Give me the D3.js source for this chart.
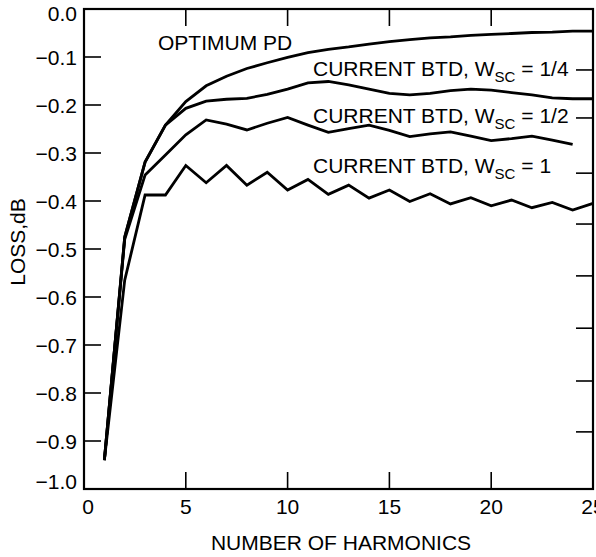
<!DOCTYPE html>
<html>
<head>
<meta charset="utf-8">
<script src="https://cdn.jsdelivr.net/npm/d3@7"></script>
<style>
  html, body { margin: 0; padding: 0; background: #fff; }
  svg { display: block; }
  text { font-family: "Liberation Sans", Arial, Helvetica, sans-serif; fill: #000; }
</style>
</head>
<body>
<svg id="chart" width="596" height="557"></svg>
<script>
// ---- data ----
const harmonics = d3.range(1, 26);
const optimumPD = [-0.94, -0.475, -0.319, -0.242, -0.193, -0.160, -0.140, -0.124, -0.112, -0.101,
  -0.091, -0.084, -0.079, -0.073, -0.068, -0.064, -0.060, -0.058, -0.055, -0.053,
  -0.051, -0.049, -0.048, -0.046, -0.046];
const btdQuarter = [-0.94, -0.475, -0.319, -0.242, -0.207, -0.192, -0.188, -0.186, -0.178, -0.167,
  -0.154, -0.151, -0.158, -0.167, -0.176, -0.179, -0.176, -0.170, -0.167, -0.169,
  -0.174, -0.179, -0.185, -0.187, -0.187];
const btdHalf = [-0.94, -0.48, -0.346, -0.304, -0.262, -0.231, -0.240, -0.252, -0.238, -0.226,
  -0.242, -0.257, -0.249, -0.242, -0.253, -0.266, -0.260, -0.256, -0.265, -0.274,
  -0.270, -0.265, -0.273, -0.282];
const btdOne = [-0.94, -0.565, -0.3875, -0.3875, -0.326, -0.362, -0.326, -0.367, -0.340, -0.377,
  -0.355, -0.386, -0.367, -0.394, -0.377, -0.401, -0.385, -0.406, -0.393, -0.410,
  -0.398, -0.414, -0.403, -0.419, -0.405];
const xTickValues = [0, 5, 10, 15, 20, 25];
const yTickValues = [0, -0.1, -0.2, -0.3, -0.4, -0.5, -0.6, -0.7, -0.8, -0.9, -1.0];
const rightTickValues = [-0.127, -0.227, -0.342, -0.448, -0.556, -0.665, -0.775, -0.881];
const seriesList = [
  { name: "OPTIMUM PD", values: optimumPD },
  { name: "CURRENT BTD, W_SC = 1/4", values: btdQuarter },
  { name: "CURRENT BTD, W_SC = 1/2", values: btdHalf },
  { name: "CURRENT BTD, W_SC = 1", values: btdOne }
];

// ---- layout ----
const svg = d3.select("#chart");
const pLeft = 84, pRight = 593, pTop = 9, pBottom = 489;
const x = d3.scaleLinear().domain([0, 25]).range([pLeft, pRight]);
const y = d3.scaleLinear().domain([0, -1]).range([pTop, pBottom]);
const tickLen = 17;
const fs = 21;

// frame
svg.append("rect")
  .attr("x", pLeft).attr("y", pTop)
  .attr("width", pRight - pLeft).attr("height", pBottom - pTop)
  .attr("fill", "none").attr("stroke", "#000").attr("stroke-width", 2.2);

// ticks (inward)
const inner = svg.append("g").attr("stroke", "#000").attr("stroke-width", 1.6);
yTickValues.filter(v => v !== 0 && v !== -1).forEach(v => {
  inner.append("line").attr("x1", pLeft).attr("x2", pLeft + tickLen)
    .attr("y1", y(v)).attr("y2", y(v));
});
rightTickValues.forEach(v => {
  inner.append("line").attr("x1", pRight).attr("x2", pRight - tickLen)
    .attr("y1", y(v)).attr("y2", y(v));
});
xTickValues.filter(v => v !== 0 && v !== 25).forEach(v => {
  inner.append("line").attr("x1", x(v)).attr("x2", x(v))
    .attr("y1", pBottom).attr("y2", pBottom - tickLen);
  inner.append("line").attr("x1", x(v)).attr("x2", x(v))
    .attr("y1", pTop).attr("y2", pTop + tickLen);
});

// y tick labels
const fmtY = v => v === 0 ? "0.0" : "\u2212" + Math.abs(v).toFixed(1);
svg.append("g").selectAll("text").data(yTickValues).join("text")
  .attr("x", 77)
  .attr("y", v => y(v) + (v === 0 ? 4 : v === -1 ? -8 : 0))
  .attr("dy", "0.36em")
  .attr("text-anchor", "end")
  .attr("font-size", fs)
  .text(fmtY);

// x tick labels
svg.append("g").selectAll("text").data(xTickValues).join("text")
  .attr("x", v => x(v) + (v === 0 ? 4 : 0))
  .attr("y", 514)
  .attr("text-anchor", "middle")
  .attr("font-size", fs)
  .text(v => v);

// axis titles
svg.append("text")
  .attr("x", 341).attr("y", 550)
  .attr("text-anchor", "middle")
  .attr("font-size", fs)
  .text("NUMBER OF HARMONICS");
svg.append("text")
  .attr("transform", "translate(25,242) rotate(-90)")
  .attr("text-anchor", "middle")
  .attr("font-size", fs)
  .text("LOSS,dB");

// curves
const line = d3.line()
  .x((d, i) => x(harmonics[i]))
  .y(d => y(d));
svg.append("g").selectAll("path").data(seriesList).join("path")
  .attr("d", s => line(s.values))
  .attr("fill", "none")
  .attr("stroke", "#000")
  .attr("stroke-width", 2.8)
  .attr("stroke-linejoin", "miter");

// annotations
svg.append("text")
  .attr("x", 158).attr("y", 50)
  .attr("font-size", fs)
  .text("OPTIMUM PD");

const annots = [
  { y: 76, w: "1/4" },
  { y: 122.5, w: "1/2" },
  { y: 172.5, w: "1" }
];
annots.forEach(a => {
  const t = svg.append("text")
    .attr("x", 313).attr("y", a.y)
    .attr("font-size", fs);
  t.append("tspan").text("CURRENT BTD, W");
  t.append("tspan").attr("font-size", 15).attr("dy", 6).text("SC");
  t.append("tspan").attr("dy", -6).text(" = " + a.w);
});
</script>
</body>
</html>
